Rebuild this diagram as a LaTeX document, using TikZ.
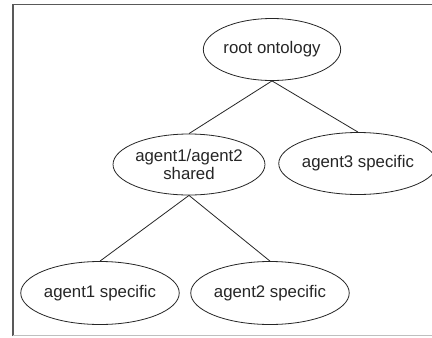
\documentclass[tikz,border=0pt]{standalone}
\usepackage{fontspec}
\setmainfont{Liberation Sans}
\usetikzlibrary{shapes.geometric}
\begin{document}
\begin{tikzpicture}[x=1pt,y=-1pt,
  onto/.style={ellipse,draw=black!85,line width=0.8pt,inner sep=0pt,
    text=black!85,font=\fontsize{16.8}{18.5}\selectfont,align=center},
  link/.style={draw=black!85,line width=0.8pt}]
\useasboundingbox (0,0) rectangle (432,338);
\fill[white] (0,0) rectangle (432,338);
\draw[black!65,line width=1.2pt] (13,336) -- (13,4.6) -- (432,4.6);
\draw[black!25,line width=1pt] (13,335) -- (432,335);
\node[onto,minimum width=136pt,minimum height=62pt] (root) at (272,49.5) {root ontology};
\node[onto,minimum width=143pt,minimum height=61pt] (shared) at (189,164.5) {agent1/agent2\\shared};
\node[onto,minimum width=143pt,minimum height=62pt] (a3) at (358,163.5) {agent3 specific};
\node[onto,minimum width=144pt,minimum height=63pt] (a1) at (100,293) {agent1 specific};
\node[onto,minimum width=142pt,minimum height=63pt] (a2) at (270,293) {agent2 specific};
\draw[link] (root.south) -- (shared.north);
\draw[link] (root.south) -- (a3.north);
\draw[link] (shared.south) -- (a1.north);
\draw[link] (shared.south) -- (a2.north);
\end{tikzpicture}
\end{document}
